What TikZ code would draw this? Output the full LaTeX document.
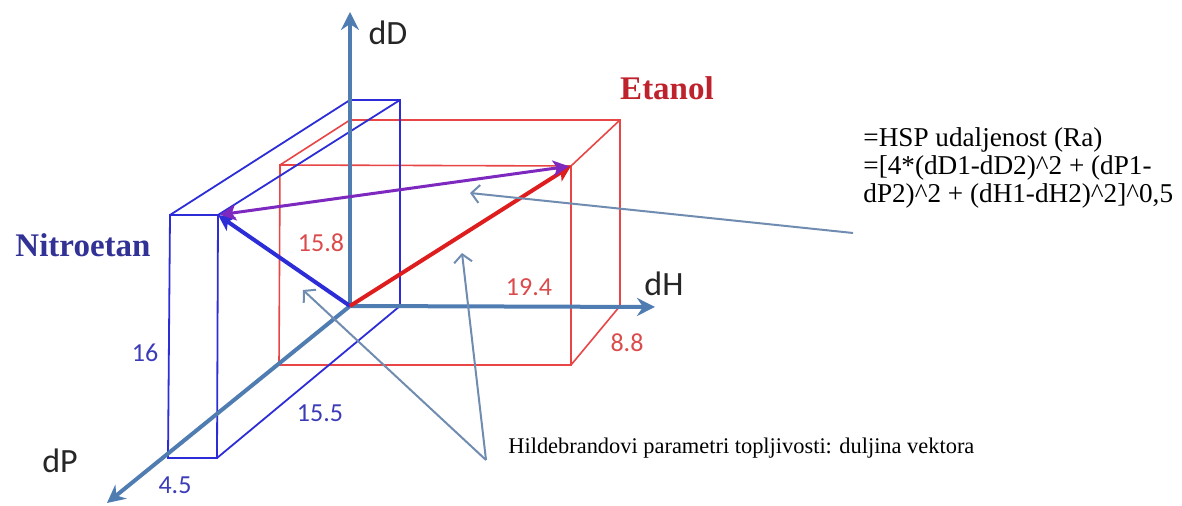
\documentclass[tikz,border=0pt]{standalone}
\usepackage{fontspec}
\setmainfont{Liberation Serif}
\newfontfamily\axisfont{Carlito}
\usepackage{tikz}
\usetikzlibrary{positioning}
\usetikzlibrary{arrows.meta}
\definecolor{axisblue}{RGB}{79,125,178}
\definecolor{hintblue}{RGB}{112,140,176}
\definecolor{nitroblue}{RGB}{45,45,215}
\definecolor{nitrotext}{RGB}{50,50,150}
\definecolor{nitronum}{RGB}{60,60,185}
\definecolor{etared}{RGB}{232,70,70}
\definecolor{etavec}{RGB}{222,30,30}
\definecolor{etatext}{RGB}{190,35,45}
\definecolor{etanum}{RGB}{220,75,75}
\definecolor{ravec}{RGB}{125,40,190}
\tikzstyle{axisline} = [draw=axisblue, line width=2pt, -{Stealth[length=9pt,width=9pt,inset=3pt]}]
\tikzstyle{nitrobox} = [draw=nitroblue, line width=0.9pt]
\tikzstyle{etabox} = [draw=etared, line width=0.8pt]
\tikzstyle{vec} = [line width=2pt, -{Stealth[length=8pt,width=8pt,inset=2pt]}]
\tikzstyle{hint} = [draw=hintblue, line width=1pt, -{Straight Barb[length=4pt,width=9pt]}]
\tikzstyle{axlabel} = [font=\axisfont\fontsize{17}{20}\selectfont, text=black!85]
\tikzstyle{numlabel} = [font=\axisfont\fontsize{13}{15}\selectfont, inner sep=0pt]
\tikzstyle{solvent} = [font=\bfseries\fontsize{16.5}{19}\selectfont, inner sep=0pt]
\tikzstyle{notetext} = [font=\fontsize{11.2}{13}\selectfont, inner sep=0pt]

\begin{document}
\begin{tikzpicture}[x=0.5pt, y=-0.5pt]
	\useasboundingbox (0,0) rectangle (1182,506);
	\coordinate (O) at (350,306);
	\coordinate (nBTL) at (350,100);
	\coordinate (nBTR) at (400,100);
	\coordinate (nBBR) at (400,306);
	\coordinate (nFTL) at (170,215);
	\coordinate (nFTR) at (218,215);
	\coordinate (nFBL) at (168,458);
	\coordinate (nFBR) at (217,458);
	\coordinate (eBTL) at (350,120);
	\coordinate (eBTR) at (620,120);
	\coordinate (eBBR) at (620,306);
	\coordinate (eFTL) at (280,165);
	\coordinate (eFTR) at (571,166);
	\coordinate (eFBL) at (279,365);
	\coordinate (eFBR) at (571,365);
	\coordinate (dDend) at (350,12);
	\coordinate (dHend) at (655,307);
	\coordinate (dPend) at (107,503);
	\coordinate (hintbase) at (486,460);
	\coordinate (hintA) at (303,290);
	\coordinate (hintB) at (462,253);
	\coordinate (raStart) at (853,233);
	\coordinate (raTip) at (470,193);

	\draw [etabox] (eFTL) -- (eFTR) -- (eFBR) -- (eFBL) -- cycle;
	\draw [etabox] (eFTL) -- (eBTL) -- (eBTR) -- (eBBR) -- (eFBR);
	\draw [etabox] (eBTR) -- (eFTR);

	\draw [nitrobox] (nFTL) -- (nFTR) -- (nFBR) -- (nFBL) -- cycle;
	\draw [nitrobox] (nFTL) -- (nBTL) -- (nBTR) -- (nBBR) -- (nFBR);
	\draw [nitrobox] (nBTR) -- (nFTR);

	\draw [axisline] (O) -- (dDend);
	\draw [axisline] (O) -- (dHend);
	\draw [axisline] (O) -- (dPend);

	\draw [vec, draw=nitroblue, fill=nitroblue] (O) -- (nFTR);
	\draw [vec, draw=etavec, fill=etavec] (O) -- (eFTR);
	\draw [vec, {Stealth[length=8pt,width=8pt,inset=2pt]}-{Stealth[length=8pt,width=8pt,inset=2pt]},
		line width=1.5pt, draw=ravec, shorten <=1pt, shorten >=1pt] (nFTR) -- (eFTR);

	\draw [hint] (hintbase) -- (hintA);
	\draw [hint] (hintbase) -- (hintB);
	\draw [hint] (raStart) -- (raTip);

	\node [axlabel] (dDlabel) at (388,33) {dD};
	\node [axlabel] (dHlabel) at (664,284) {dH};
	\node [axlabel] (dPlabel) at (60,461) {dP};

	\node [solvent, text=nitrotext] (nitroetan) at (83,245) {Nitroetan};
	\node [solvent, text=etatext] (etanol) at (667,88) {Etanol};

	\node [numlabel, text=etanum] (dDeta) at (321,243) {15.8};
	\node [numlabel, text=etanum] (dHeta) at (529,287) {19.4};
	\node [numlabel, text=etanum] (dPeta) at (627,343) {8.8};
	\node [numlabel, text=nitronum] (dDnitro) at (145,353) {16};
	\node [numlabel, text=nitronum] (dPnitro) at (320,413) {15.5};
	\node [numlabel, text=nitronum] (dHnitro) at (175,485) {4.5};

	\node [notetext, anchor=west] (hildebrand) at (508,448)
		{Hildebrandovi parametri topljivosti: duljina vektora};
	\node [notetext, font=\fontsize{13.6}{14}\selectfont, anchor=north west, align=left] (radist) at (863,127)
		{=HSP udaljenost (Ra)\\=[4*(dD1-dD2)\textasciicircum2 + (dP1-\\dP2)\textasciicircum2 + (dH1-dH2)\textasciicircum2]\textasciicircum0,5};
\end{tikzpicture}
\end{document}
